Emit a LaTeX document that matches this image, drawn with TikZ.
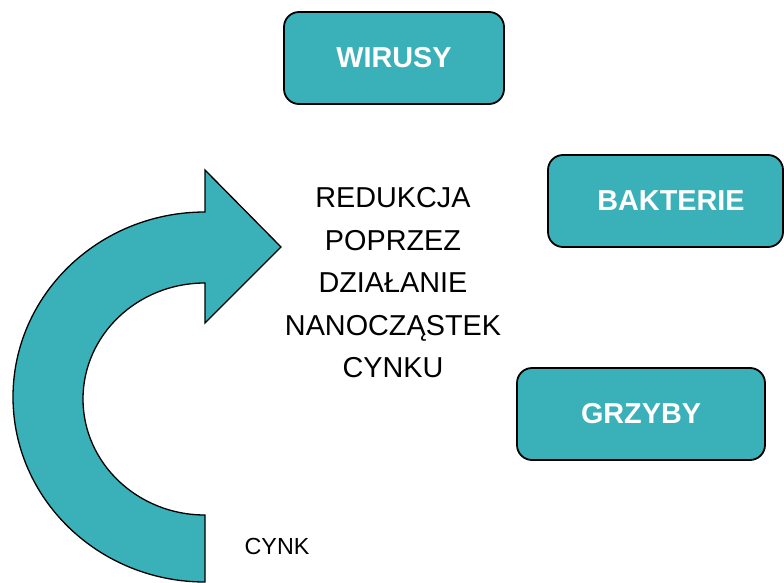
\documentclass[tikz,border=0pt]{standalone}
\usepackage{fontspec}
\setmainfont{Liberation Sans}
\definecolor{teal1}{HTML}{3AB0B9}
\begin{document}
\begin{tikzpicture}[x=1pt,y=-1pt,
  catbox/.style={draw=black,line width=1.8pt,fill=teal1,rounded corners=15pt,
    minimum height=92pt,inner sep=0pt,text=white,
    font=\fontsize{28.8}{34}\selectfont\bfseries},
  bigarrow/.style={draw=black,line width=1.3pt,fill=teal1,line join=miter},
  plain/.style={inner sep=0pt,text=black}]
\useasboundingbox (0,0) rectangle (784,583);
% curved arrow
\draw[bigarrow] (205,582)
  arc[start angle=90,end angle=270,x radius=192,y radius=185]
  -- (205,170) -- (281,247) -- (205,323) -- (205,283)
  arc[start angle=270,end angle=90,x radius=122,y radius=116]
  -- cycle;
% boxes
\node[catbox,minimum width=220pt] (wirusy) at (394,58) {WIRUSY};
\node[catbox,minimum width=235pt] (bakterie) at (665.5,201) {\hspace*{11pt}BAKTERIE};
\node[catbox,minimum width=248pt] (grzyby) at (641,414) {GRZYBY};
% texts
\node[plain,align=center,font=\fontsize{28.8}{42.5}\selectfont] (red) at (393,283)
  {REDUKCJA\\POPRZEZ\\DZIAŁANIE\\NANOCZĄSTEK\\CYNKU};
\node[plain,font=\fontsize{23.3}{28}\selectfont] (cynk) at (277,546) {CYNK};
\end{tikzpicture}
\end{document}
